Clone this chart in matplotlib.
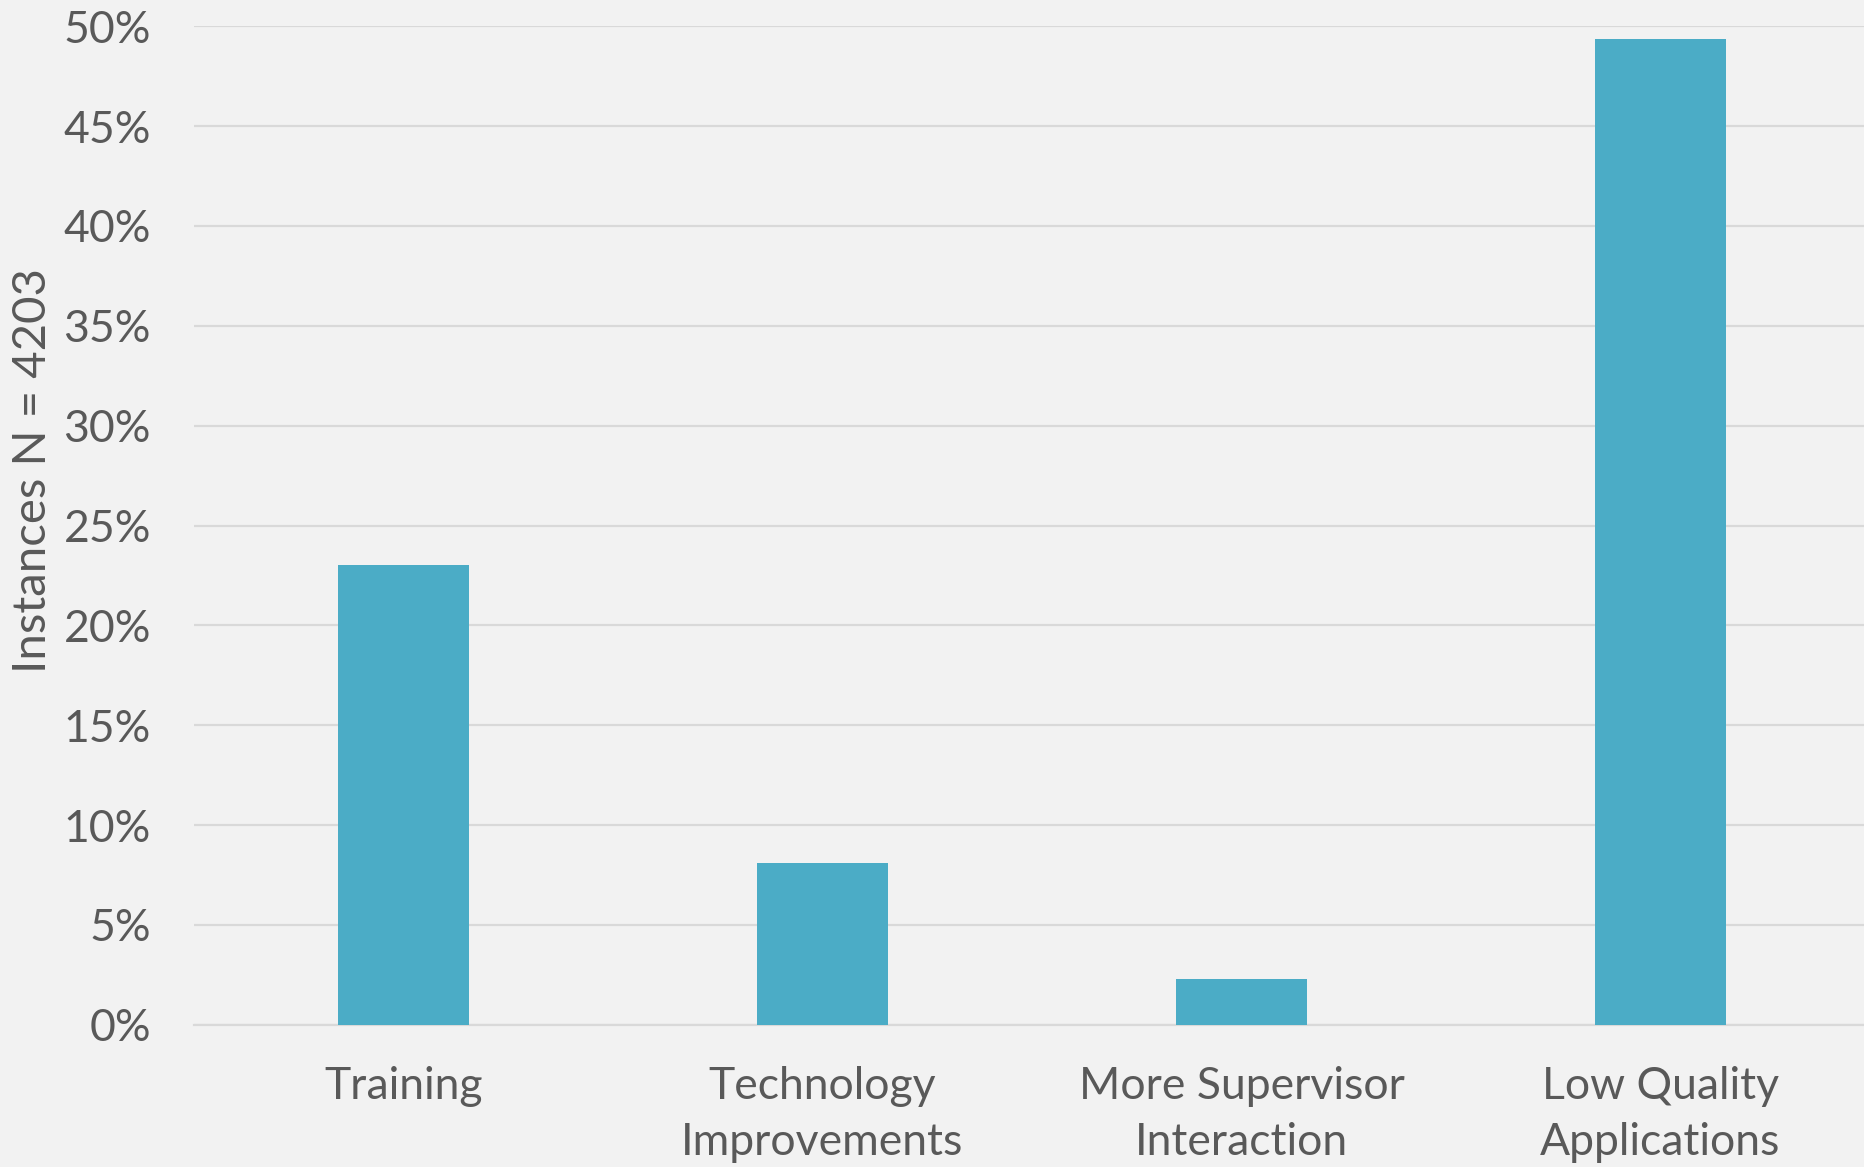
import matplotlib
matplotlib.use("Agg")
import matplotlib.pyplot as plt
from matplotlib.ticker import FuncFormatter

categories = ["Training", "Technology\nImprovements", "More Supervisor\nInteraction", "Low Quality\nApplications"]
values = [23.0, 8.1, 2.3, 49.35]
yticks = [0, 5, 10, 15, 20, 25, 30, 35, 40, 45, 50]
ylabel = "Instances N = 4203"

BG = "#F2F2F2"
BAR = "#4BACC6"
TXT = "#595959"
GRID = "#D9D9D9"

plt.rcParams["font.family"] = ["Lato", "DejaVu Sans"]

W, H = 1865, 1167
fig = plt.figure(figsize=(W / 100, H / 100), dpi=100, facecolor=BG)
left, right, top, bottom = 194, 1870, 26.3, 1024.7
ax = fig.add_axes([left / W, 1 - bottom / H, (right - left) / W, (bottom - top) / H])
ax.set_facecolor(BG)

x = list(range(len(categories)))
ax.bar(x, values, width=0.313, color=BAR, zorder=3)
ax.set_xlim(-0.5, 3.5)
ax.set_ylim(0, 50)
ax.set_yticks(yticks)
ax.yaxis.set_major_formatter(FuncFormatter(lambda v, p: f"{int(v)}%"))
ax.set_xticks(x)
ax.set_xticklabels(categories, fontsize=32, color=TXT, linespacing=1.45)
ax.tick_params(axis="y", labelsize=32, labelcolor=TXT, length=0, pad=31)
ax.tick_params(axis="x", length=0, pad=29.5)
ax.grid(axis="y", color=GRID, linewidth=1.6, zorder=0)
for s in ["top", "right", "left"]:
    ax.spines[s].set_visible(False)
ax.spines["bottom"].set_color(GRID)
ax.spines["bottom"].set_linewidth(1.6)

fig.text(33 / W, 1 - 471 / H, ylabel, rotation=90, ha="center", va="center",
         fontsize=34, color=TXT)

fig.savefig("out.png", dpi=100, facecolor=BG)
